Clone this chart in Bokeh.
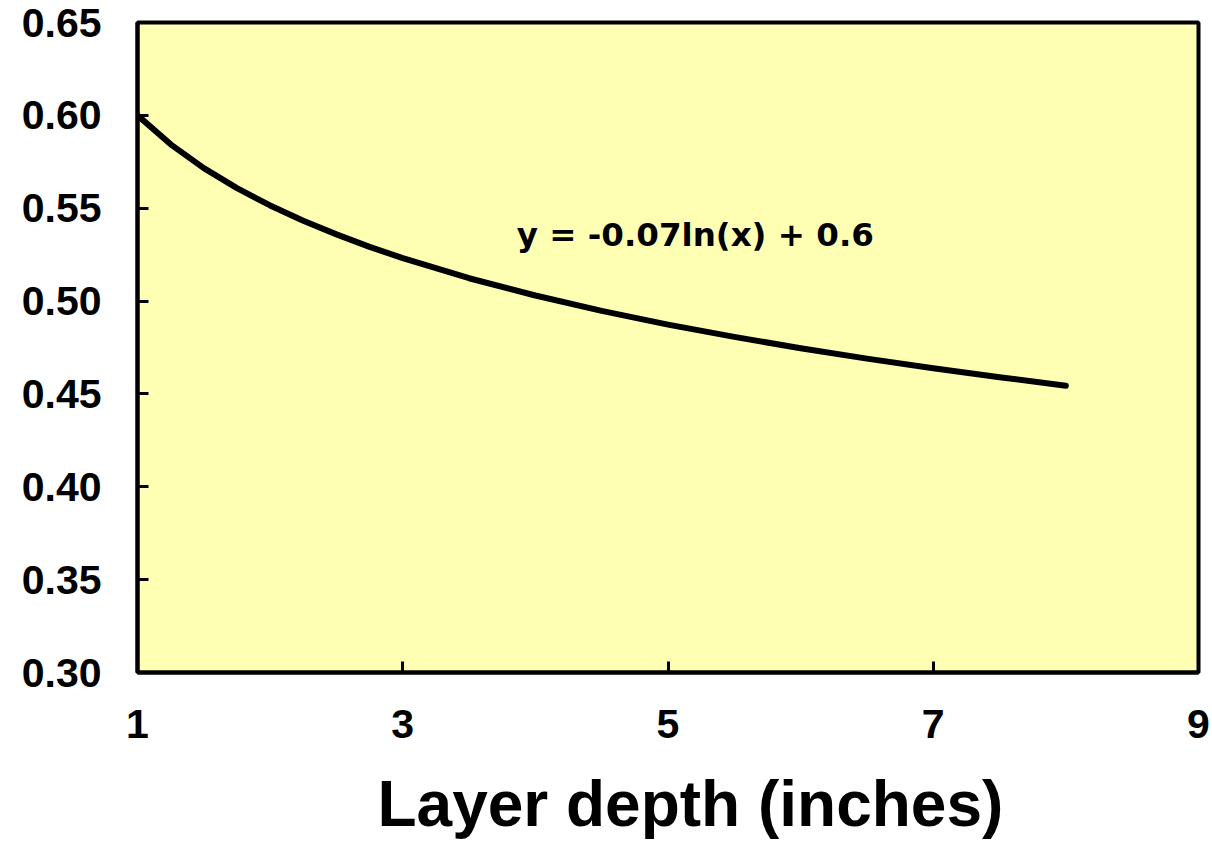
from bokeh.plotting import figure
from bokeh.models import Range1d, FixedTicker, NumeralTickFormatter, Label
from bokeh.embed import file_html
from bokeh.resources import INLINE

# Trendline values (layer depth in inches vs. coefficient)
depth = [1.0, 1.25, 1.5, 1.75, 2.0, 2.25, 2.5, 2.75, 3.0, 3.5, 4.0, 4.5,
         5.0, 5.5, 6.0, 6.5, 7.0, 7.5, 8.0]
coef = [0.600, 0.5844, 0.5716, 0.5608, 0.5515, 0.5432, 0.5359, 0.5292,
        0.5231, 0.5123, 0.5030, 0.4947, 0.4873, 0.4807, 0.4746, 0.4690,
        0.4638, 0.4590, 0.4544]
x_ticks = [1, 3, 5, 7, 9]
y_ticks = [0.30, 0.35, 0.40, 0.45, 0.50, 0.55, 0.60, 0.65]
equation = "y = -0.07ln(x) + 0.6"
x_title = "Layer depth (inches)"

p = figure(width=1212, height=845, output_backend="svg", toolbar_location=None,
           x_range=Range1d(1, 9), y_range=Range1d(0.30, 0.65),
           min_border_left=137, min_border_top=22, min_border_right=14,
           min_border_bottom=173)

p.background_fill_color = "#FFFFB3"
p.border_fill_color = "white"
p.outline_line_color = "black"
p.outline_line_width = 4
p.xgrid.grid_line_color = None
p.ygrid.grid_line_color = None

for ax in (p.xaxis[0], p.yaxis[0]):
    ax.axis_line_color = "black"
    ax.axis_line_width = 4
    ax.major_tick_in = 11
    ax.major_tick_out = 0
    ax.major_tick_line_width = 3
    ax.major_tick_line_color = "black"
    ax.minor_tick_line_color = None
    ax.major_label_text_font = "Liberation Sans"
    ax.major_label_text_font_style = "bold"
    ax.major_label_text_font_size = "41px"
    ax.major_label_text_color = "black"

p.xaxis.ticker = FixedTicker(ticks=x_ticks)
p.yaxis.ticker = FixedTicker(ticks=y_ticks)
p.yaxis.formatter = NumeralTickFormatter(format="0.00")
p.yaxis.major_label_standoff = 36
p.xaxis.major_label_standoff = 37

# x title: leading en + thin space shift its centre right, as in the reference
p.xaxis.axis_label = "\u2002\u2009" + x_title
p.xaxis.axis_label_text_font = "Liberation Sans"
p.xaxis.axis_label_text_font_style = "bold"
p.xaxis.axis_label_text_font_size = "64px"
p.xaxis.axis_label_text_color = "black"
p.xaxis.axis_label_standoff = 27

p.line(depth, coef, line_color="black", line_width=6,
       line_join="round", line_cap="round")

p.add_layout(Label(x=3.86, y=0.5354, text=equation,
                   text_font="DejaVu Sans", text_font_style="bold",
                   text_font_size="32.5px", text_color="black",
                   text_align="left", text_baseline="alphabetic"))

open("out.html", "w").write(file_html(p, INLINE))
